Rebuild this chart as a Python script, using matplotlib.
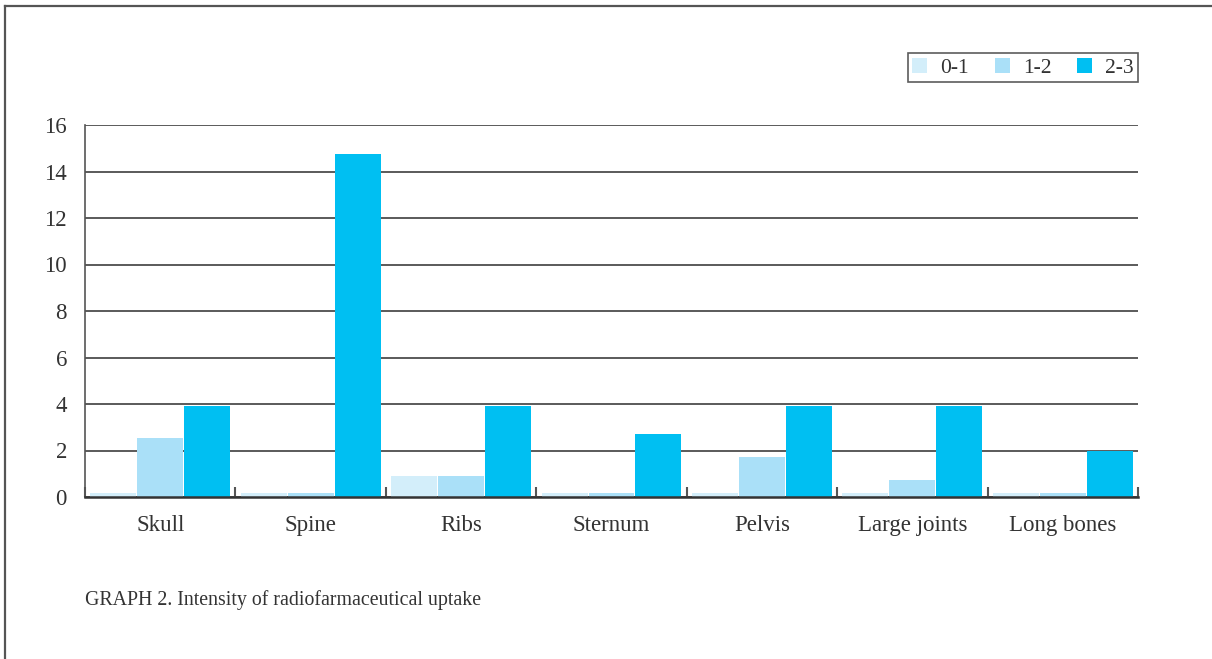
import numpy as np
import matplotlib.pyplot as plt
from matplotlib.lines import Line2D

# Data
categories = ['Skull', 'Spine', 'Ribs', 'Sternum', 'Pelvis', 'Large joints', 'Long bones']
series_names = ['0-1', '1-2', '2-3']
vals_01 = [0.17, 0.17, 0.9, 0.17, 0.17, 0.17, 0.17]
vals_12 = [2.55, 0.17, 0.9, 0.17, 1.7, 0.75, 0.17]
vals_23 = [3.9, 14.75, 3.9, 2.7, 3.9, 3.9, 2.0]
yticks = [0, 2, 4, 6, 8, 10, 12, 14, 16]

colors = ['#d3eefa', '#aae0f8', '#00bff2']
serif = 'Liberation Serif'
txt_col = '#333333'

fig = plt.figure(figsize=(12.12, 6.59), dpi=100)

# outer frame (top and left only)
fig.add_artist(Line2D([5/1212, 5/1212], [0, 1 - 6/659], transform=fig.transFigure,
                      color='#555555', lw=1.6))
fig.add_artist(Line2D([5/1212, 1], [1 - 6/659, 1 - 6/659], transform=fig.transFigure,
                      color='#555555', lw=1.6))

ax = fig.add_axes([85/1212, (659 - 497)/659, 1053/1212, 372/659])

x = np.arange(len(categories))
w = 0.305
step = 0.312
for i, (vals, c, name) in enumerate(zip([vals_01, vals_12, vals_23], colors, series_names)):
    ax.bar(x + (i - 1) * step, vals, width=w, color=c, label=name, zorder=3)

ax.set_xlim(-0.5, len(categories) - 0.5)
ax.set_ylim(0, 16)
ax.set_yticks(yticks)
ax.set_yticklabels([str(v) for v in yticks], fontfamily=serif, fontsize=16.5, color=txt_col)
ax.yaxis.grid(True, color='#5a5a5a', lw=1.4, zorder=1)
ax.set_axisbelow(True)

ax.set_xticks(x)
ax.set_xticklabels(categories, fontfamily=serif, fontsize=16.5, color=txt_col)
ax.tick_params(axis='x', which='major', length=0, pad=13)
ax.tick_params(axis='y', length=0, pad=13)

# group separator ticks
ax.set_xticks(np.arange(-0.5, len(categories)), minor=True)
ax.tick_params(axis='x', which='minor', direction='in', length=7, width=1.5, color='#555555')

for s in ['top', 'right']:
    ax.spines[s].set_visible(False)
ax.spines['bottom'].set_color('#333333')
ax.spines['bottom'].set_linewidth(1.8)
ax.spines['bottom'].set_zorder(4)
ax.spines['left'].set_color('#555555')
ax.spines['left'].set_linewidth(1.2)

leg = ax.legend(loc='lower right', bbox_to_anchor=(1.0, 1.1156), borderaxespad=0,
                ncol=3, frameon=True, fancybox=False, edgecolor='#333333',
                handlelength=0.7, handleheight=0.7, handletextpad=0.6,
                columnspacing=1.2, borderpad=0.2,
                prop={'family': serif, 'size': 15.5})
leg.get_frame().set_linewidth(1.2)
for t in leg.get_texts():
    t.set_color(txt_col)

fig.text(85/1212, 1 - 600/659, 'GRAPH 2. Intensity of radiofarmaceutical uptake',
         fontfamily=serif, fontsize=14.3, color=txt_col, va='center', ha='left')

fig.savefig('out.png', dpi=100)
